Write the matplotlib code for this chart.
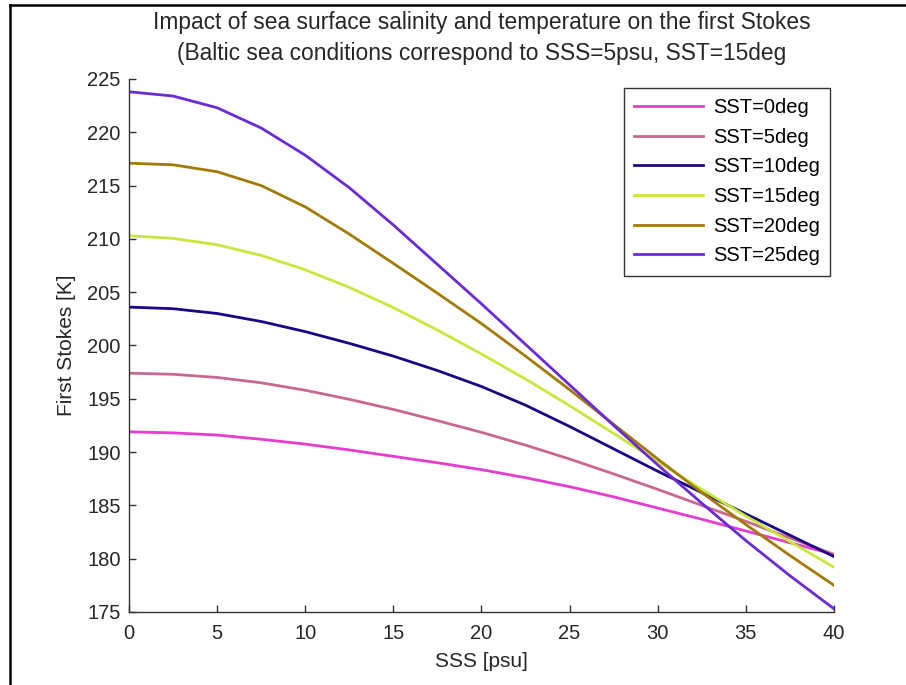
import numpy as np
import matplotlib
matplotlib.use("Agg")
import matplotlib.pyplot as plt
from matplotlib.lines import Line2D

plt.rcParams["font.family"] = ["Liberation Sans", "DejaVu Sans"]

# SSS grid [psu] and first Stokes brightness temperature [K] per SST
sss = [0, 2.5, 5, 7.5, 10, 12.5, 15, 17.5, 20, 22.5, 25, 27.5, 30, 32.5, 35, 37.5, 40]
tb_sst0 = [191.9, 191.8, 191.6, 191.2, 190.75, 190.2, 189.6, 189.0, 188.35, 187.6, 186.75,
           185.8, 184.75, 183.7, 182.6, 181.5, 180.4]
tb_sst5 = [197.4, 197.3, 197.0, 196.5, 195.8, 194.95, 194.0, 192.95, 191.85, 190.65, 189.35,
           187.95, 186.5, 185.0, 183.5, 181.95, 180.4]
tb_sst10 = [203.6, 203.45, 203.0, 202.25, 201.3, 200.2, 199.0, 197.65, 196.15, 194.4, 192.4,
            190.3, 188.2, 186.2, 184.2, 182.2, 180.2]
tb_sst15 = [210.3, 210.05, 209.45, 208.45, 207.1, 205.45, 203.55, 201.45, 199.2, 196.85, 194.35,
            191.75, 189.1, 186.5, 184.0, 181.6, 179.2]
tb_sst20 = [217.1, 216.95, 216.3, 215.0, 213.0, 210.45, 207.7, 204.9, 202.05, 199.0, 195.85,
            192.6, 189.35, 186.2, 183.2, 180.3, 177.5]
tb_sst25 = [223.8, 223.4, 222.3, 220.4, 217.85, 214.8, 211.3, 207.6, 203.9, 200.1, 196.3,
            192.5, 188.8, 185.2, 181.7, 178.4, 175.3]
labels = ["SST=0deg", "SST=5deg", "SST=10deg", "SST=15deg", "SST=20deg", "SST=25deg"]
colors = ["#e63ccf", "#c86890", "#1c0685", "#c6e83a", "#a27a05", "#6a2ad6"]

fig = plt.figure(figsize=(9.06, 6.85), dpi=100)
ax = fig.add_axes([0.1424, 0.1066, 0.7781, 0.7781])

for tb, lab, c in zip([tb_sst0, tb_sst5, tb_sst10, tb_sst15, tb_sst20, tb_sst25], labels, colors):
    ax.plot(sss, tb, color=c, lw=2.0, label=lab)

ax.set_xlim(0, 40)
ax.set_ylim(175, 225)
ax.set_xticks(np.arange(0, 41, 5))
ax.set_yticks(np.arange(175, 226, 5))
for s in ["top", "right"]:
    ax.spines[s].set_visible(False)
for s in ["left", "bottom"]:
    ax.spines[s].set_color("#333333")
    ax.spines[s].set_linewidth(1.0)
ax.tick_params(direction="in", length=5, width=1, color="#333333", labelsize=14.5,
               labelcolor="#262626")
ax.tick_params(axis="x", pad=9)
ax.tick_params(axis="y", pad=6)

ax.set_xlabel("SSS [psu]", fontsize=15, color="#262626", labelpad=6)
ax.set_ylabel("First Stokes [K]", fontsize=15, color="#262626", labelpad=8)
ax.set_title("Impact of sea surface salinity and temperature on the first Stokes\n"
             "(Baltic sea conditions correspond to SSS=5psu, SST=15deg",
             fontsize=16.4, color="#262626", pad=14, linespacing=1.4)

leg = ax.legend(loc="upper right", bbox_to_anchor=(0.994, 0.983), borderaxespad=0,
                fontsize=14.5, fancybox=False, edgecolor="#333333", framealpha=1,
                handlelength=3.4, labelspacing=0.53, borderpad=0.5, handletextpad=0.5)
leg.get_frame().set_linewidth(1.0)

# outer frame lines along the top and left edges
fig.add_artist(Line2D([0.011, 1.0], [0.993, 0.993], color="black", lw=1.8,
                      transform=fig.transFigure))
fig.add_artist(Line2D([0.011, 0.011], [0.0, 0.993], color="black", lw=1.8,
                      transform=fig.transFigure))

fig.savefig("out.png", dpi=100)
